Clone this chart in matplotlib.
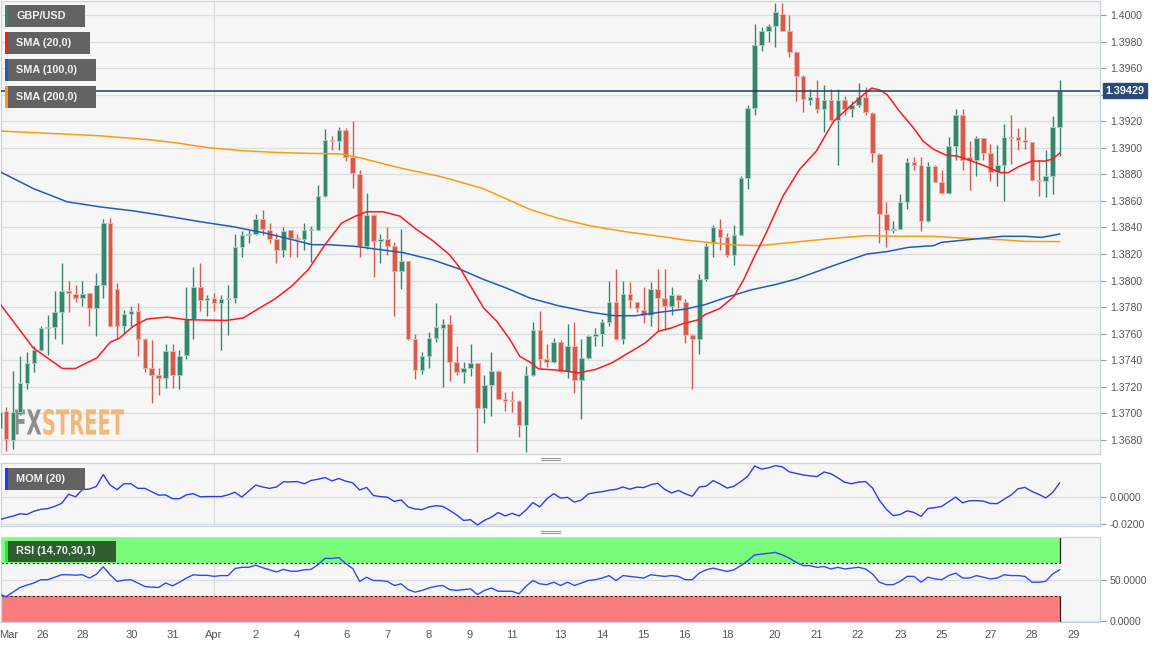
import numpy as np
import matplotlib
matplotlib.use("Agg")
import matplotlib.pyplot as plt
from matplotlib.patches import Rectangle, PathPatch
from matplotlib.lines import Line2D
from matplotlib.textpath import TextPath
from matplotlib.font_manager import FontProperties
from matplotlib.transforms import Affine2D

plt.rcParams['font.family'] = ['Liberation Sans', 'DejaVu Sans']

# GBP/USD 4h candles, bar index of the first one (half cut off at the left edge)
first_bar = -1
opens = [
    1.3689, 1.3702, 1.3680, 1.3701, 1.3723, 1.3738, 1.3748, 1.3764, 1.3765, 1.3776,
    1.3792, 1.3790, 1.3787, 1.3791, 1.3779, 1.3797, 1.3843, 1.3794, 1.3766, 1.3775,
    1.3777, 1.3756, 1.3734, 1.3729, 1.3727, 1.3747, 1.3729, 1.3744, 1.3771, 1.3795,
    1.3785, 1.3787, 1.3783, 1.3786, 1.3787, 1.3825, 1.3834, 1.3835, 1.3846, 1.3838,
    1.3831, 1.3823, 1.3838, 1.3832, 1.3831, 1.3838, 1.3838, 1.3864, 1.3906, 1.3905,
    1.3913, 1.3893, 1.3880, 1.3826, 1.3849, 1.3830, 1.3831, 1.3826, 1.3807, 1.3815,
    1.3756, 1.3733, 1.3743, 1.3757, 1.3764, 1.3767, 1.3739, 1.3731, 1.3734, 1.3738,
    1.3704, 1.3721, 1.3732, 1.3711, 1.3710, 1.3709, 1.3691, 1.3729, 1.3763, 1.3741,
    1.3739, 1.3754, 1.3732, 1.3751, 1.3725, 1.3742, 1.3758, 1.3760, 1.3769, 1.3784,
    1.3756, 1.3790, 1.3784, 1.3778, 1.3774, 1.3794, 1.3787, 1.3781, 1.3789, 1.3784,
    1.3759, 1.3756, 1.3801, 1.3828, 1.3839, 1.3833, 1.3819, 1.3834, 1.3877, 1.3930,
    1.3977, 1.3988, 1.3992, 1.4001, 1.3988, 1.3972, 1.3954, 1.3936, 1.3938, 1.3929,
    1.3936, 1.3921, 1.3936, 1.3929, 1.3932, 1.3938, 1.3926, 1.3895, 1.3850, 1.3838,
    1.3839, 1.3859, 1.3889, 1.3887, 1.3845, 1.3886, 1.3874, 1.3866, 1.3901, 1.3925,
    1.3893, 1.3891, 1.3907, 1.3896, 1.3882, 1.3887, 1.3908, 1.3908, 1.3906, 1.3904,
    1.3876, 1.3875, 1.3879, 1.3916,
]
highs = [
    1.3706, 1.3705, 1.3732, 1.3743, 1.3746, 1.3751, 1.3766, 1.3774, 1.3792, 1.3813,
    1.3800, 1.3797, 1.3800, 1.3791, 1.3806, 1.3846, 1.3847, 1.3798, 1.3778, 1.3781,
    1.3783, 1.3757, 1.3755, 1.3734, 1.3752, 1.3752, 1.3748, 1.3795, 1.3810, 1.3813,
    1.3789, 1.3791, 1.3789, 1.3797, 1.3835, 1.3837, 1.3838, 1.3850, 1.3853, 1.3843,
    1.3836, 1.3840, 1.3838, 1.3835, 1.3843, 1.3841, 1.3872, 1.3914, 1.3909, 1.3916,
    1.3915, 1.3920, 1.3883, 1.3866, 1.3850, 1.3835, 1.3840, 1.3829, 1.3839, 1.3815,
    1.3760, 1.3746, 1.3761, 1.3783, 1.3771, 1.3774, 1.3751, 1.3739, 1.3752, 1.3738,
    1.3729, 1.3746, 1.3733, 1.3716, 1.3717, 1.3710, 1.3736, 1.3769, 1.3777, 1.3752,
    1.3757, 1.3755, 1.3767, 1.3769, 1.3756, 1.3759, 1.3764, 1.3771, 1.3800, 1.3809,
    1.3800, 1.3799, 1.3784, 1.3795, 1.3799, 1.3809, 1.3809, 1.3795, 1.3790, 1.3786,
    1.3760, 1.3805, 1.3828, 1.3842, 1.3846, 1.3836, 1.3842, 1.3879, 1.3932, 1.3993,
    1.3991, 1.3993, 1.4009, 1.4009, 1.4000, 1.3973, 1.3955, 1.3944, 1.3951, 1.3947,
    1.3944, 1.3944, 1.3939, 1.3935, 1.3949, 1.3946, 1.3927, 1.3896, 1.3859, 1.3845,
    1.3865, 1.3892, 1.3893, 1.3893, 1.3889, 1.3887, 1.3883, 1.3908, 1.3929, 1.3929,
    1.3905, 1.3909, 1.3907, 1.3903, 1.3902, 1.3918, 1.3925, 1.3915, 1.3916, 1.3904,
    1.3891, 1.3898, 1.3924, 1.3951,
]
lows = [
    1.3680, 1.3672, 1.3673, 1.3699, 1.3718, 1.3731, 1.3747, 1.3744, 1.3756, 1.3752,
    1.3776, 1.3784, 1.3781, 1.3766, 1.3758, 1.3787, 1.3765, 1.3756, 1.3760, 1.3766,
    1.3743, 1.3731, 1.3708, 1.3714, 1.3719, 1.3719, 1.3718, 1.3741, 1.3756, 1.3777,
    1.3773, 1.3777, 1.3748, 1.3759, 1.3783, 1.3818, 1.3828, 1.3834, 1.3834, 1.3828,
    1.3813, 1.3818, 1.3818, 1.3818, 1.3823, 1.3814, 1.3838, 1.3863, 1.3898, 1.3898,
    1.3890, 1.3870, 1.3818, 1.3824, 1.3803, 1.3813, 1.3819, 1.3773, 1.3794, 1.3755,
    1.3726, 1.3730, 1.3734, 1.3754, 1.3720, 1.3724, 1.3729, 1.3723, 1.3728, 1.3671,
    1.3693, 1.3698, 1.3711, 1.3702, 1.3701, 1.3682, 1.3671, 1.3728, 1.3734, 1.3735,
    1.3738, 1.3731, 1.3727, 1.3715, 1.3696, 1.3741, 1.3751, 1.3751, 1.3766, 1.3755,
    1.3752, 1.3779, 1.3776, 1.3768, 1.3766, 1.3762, 1.3763, 1.3774, 1.3779, 1.3753,
    1.3718, 1.3745, 1.3800, 1.3818, 1.3823, 1.3818, 1.3812, 1.3834, 1.3869, 1.3925,
    1.3973, 1.3980, 1.3976, 1.3988, 1.3968, 1.3935, 1.3927, 1.3932, 1.3926, 1.3912,
    1.3920, 1.3887, 1.3925, 1.3923, 1.3931, 1.3925, 1.3889, 1.3828, 1.3825, 1.3836,
    1.3839, 1.3854, 1.3883, 1.3837, 1.3844, 1.3874, 1.3865, 1.3865, 1.3891, 1.3883,
    1.3868, 1.3879, 1.3891, 1.3875, 1.3871, 1.3860, 1.3888, 1.3898, 1.3899, 1.3875,
    1.3864, 1.3863, 1.3865, 1.3894,
]
closes = [
    1.3701, 1.3681, 1.3701, 1.3723, 1.3738, 1.3748, 1.3764, 1.3765, 1.3776, 1.3792,
    1.3791, 1.3787, 1.3790, 1.3779, 1.3797, 1.3843, 1.3766, 1.3766, 1.3775, 1.3777,
    1.3756, 1.3734, 1.3729, 1.3727, 1.3747, 1.3729, 1.3743, 1.3771, 1.3795, 1.3785,
    1.3787, 1.3783, 1.3786, 1.3787, 1.3825, 1.3834, 1.3835, 1.3846, 1.3839, 1.3831,
    1.3823, 1.3837, 1.3832, 1.3831, 1.3838, 1.3839, 1.3864, 1.3906, 1.3905, 1.3913,
    1.3893, 1.3881, 1.3826, 1.3849, 1.3830, 1.3831, 1.3826, 1.3807, 1.3815, 1.3756,
    1.3733, 1.3743, 1.3757, 1.3765, 1.3767, 1.3739, 1.3731, 1.3734, 1.3738, 1.3704,
    1.3721, 1.3732, 1.3711, 1.3709, 1.3709, 1.3691, 1.3729, 1.3763, 1.3741, 1.3739,
    1.3754, 1.3732, 1.3751, 1.3725, 1.3742, 1.3758, 1.3760, 1.3769, 1.3784, 1.3756,
    1.3790, 1.3785, 1.3779, 1.3774, 1.3794, 1.3787, 1.3781, 1.3789, 1.3785, 1.3759,
    1.3756, 1.3801, 1.3826, 1.3840, 1.3833, 1.3819, 1.3834, 1.3877, 1.3930, 1.3977,
    1.3988, 1.3992, 1.4002, 1.3988, 1.3972, 1.3954, 1.3937, 1.3938, 1.3929, 1.3936,
    1.3921, 1.3936, 1.3929, 1.3932, 1.3938, 1.3927, 1.3896, 1.3850, 1.3838, 1.3839,
    1.3859, 1.3889, 1.3887, 1.3845, 1.3886, 1.3874, 1.3866, 1.3901, 1.3925, 1.3891,
    1.3891, 1.3907, 1.3896, 1.3882, 1.3887, 1.3908, 1.3907, 1.3906, 1.3904, 1.3876,
    1.3875, 1.3879, 1.3916, 1.39429,
]
last_price = 1.39429

# moving averages at these bar positions
sma20_at = [-0.9, 3.9, 8.1, 10.0, 13.1, 15.0, 16.4, 18.3, 20.3, 23.2, 26.0, 31.8, 34.2,
            36.4, 38.8, 41.2, 43.6, 46.0, 48.4, 50.3, 52.0, 54.4, 56.8, 59.2, 61.6, 64.0,
            65.5, 66.9, 68.9, 70.8, 72.7, 74.1, 75.6, 76.8, 79.7, 82.6, 85.0, 87.4, 89.8,
            92.2, 94.1, 96.0, 97.5, 99.9, 100.8, 103.0, 105.0, 106.4, 107.8, 109.7, 112.1,
            114.5, 116.9, 119.4, 121.8, 123.7, 124.9, 126.1, 127.1, 128.9, 130.9, 132.3,
            133.8, 135.7, 137.2, 138.6, 141.0, 143.4, 144.6, 146.0, 148.0, 149.9, 150.9, 152.0]
sma20 = [1.37825, 1.37493, 1.37338, 1.37338, 1.37418, 1.37535, 1.37568, 1.37655, 1.3771,
         1.37725, 1.37705, 1.377, 1.37718, 1.37788, 1.37863, 1.37958, 1.38083, 1.3827,
         1.38433, 1.38483, 1.38518, 1.38518, 1.38485, 1.38385, 1.38298, 1.38193, 1.38093,
         1.37968, 1.37793, 1.37693, 1.37555, 1.3743, 1.37385, 1.37335, 1.37325, 1.37305,
         1.3733, 1.3738, 1.37455, 1.3753, 1.37618, 1.37643, 1.37673, 1.37705, 1.37743,
         1.3779, 1.3788, 1.38005, 1.38163, 1.38363, 1.38638, 1.38838, 1.38975, 1.392,
         1.39313, 1.394, 1.3945, 1.39433, 1.394, 1.39275, 1.3915, 1.3905, 1.38988, 1.38943,
         1.38938, 1.38913, 1.38868, 1.38813, 1.38813, 1.38855, 1.389, 1.389, 1.38913, 1.38958]
sma100_at = [-0.9, 3.9, 8.8, 13.5, 18.3, 23.2, 28.0, 32.8, 37.6, 42.4, 44.1, 46.5, 50.3,
             54.4, 57.3, 61.6, 65.5, 68.8, 72.2, 75.6, 79.7, 84.5, 87.8, 90.7, 94.1, 98.0,
             100.8, 104.0, 107.5, 111.0, 114.1, 119.4, 124.2, 127.1, 130.2, 133.8, 135.0,
             139.8, 143.7, 147.0, 149.4, 152.0]
sma100 = [1.3882, 1.38693, 1.38593, 1.38555, 1.38525, 1.38485, 1.38443, 1.38405, 1.38355,
          1.38293, 1.3827, 1.3827, 1.38258, 1.3823, 1.3821, 1.38155, 1.38085, 1.3801,
          1.37943, 1.37868, 1.3781, 1.3776, 1.37735, 1.37735, 1.3776, 1.37785, 1.37818,
          1.37875, 1.3793, 1.3797, 1.38013, 1.38113, 1.382, 1.38218, 1.3825, 1.38263,
          1.38288, 1.38313, 1.38333, 1.38333, 1.38325, 1.3835]
sma200_at = [-0.9, 13.5, 20.8, 24.4, 29.2, 34.0, 38.8, 43.6, 48.4, 51.0, 56.8, 62.6, 64.5,
             68.8, 75.6, 79.7, 84.5, 89.3, 94.1, 98.0, 100.8, 104.9, 108.8, 114.5, 119.4,
             124.2, 128.9, 133.8, 138.6, 143.4, 147.0, 152.0]
sma200 = [1.39126, 1.3909, 1.3906, 1.39038, 1.39, 1.38978, 1.38965, 1.38958, 1.38953,
          1.38925, 1.38848, 1.38784, 1.38757, 1.38693, 1.38535, 1.38468, 1.3841, 1.38368,
          1.38335, 1.38305, 1.3829, 1.38268, 1.38263, 1.38293, 1.38318, 1.38338, 1.38333,
          1.38333, 1.38318, 1.38308, 1.38295, 1.38293]

# indicator panels, one value per candle
mom = [
    -0.0168, -0.0153, -0.0141, -0.0124, -0.0129, -0.0106, -0.0092, -0.0087, -0.0071, -0.0049,
    0.0017, -0.0002, 0.0050, 0.0054, 0.0073, 0.0158, 0.0083, 0.0050, 0.0092, 0.0092,
    0.0059, 0.0059, 0.0035, 0.0010, 0.0012, -0.0016, -0.0016, 0.0012, 0.0021, -0.0002,
    0.0000, 0.0000, 0.0000, 0.0012, 0.0031, -0.0004, 0.0040, 0.0083, 0.0069, 0.0059,
    0.0069, 0.0106, 0.0106, 0.0108, 0.0092, 0.0116, 0.0125, 0.0137, 0.0113, 0.0130,
    0.0111, 0.0099, 0.0047, 0.0066, 0.0007, 0.0000, -0.0005, -0.0035, -0.0024, -0.0075,
    -0.0090, -0.0094, -0.0075, -0.0066, -0.0071, -0.0100, -0.0133, -0.0172, -0.0167, -0.0205,
    -0.0172, -0.0149, -0.0115, -0.0140, -0.0121, -0.0140, -0.0097, -0.0044, -0.0074, -0.0017,
    0.0021, -0.0011, -0.0006, -0.0040, -0.0025, 0.0019, 0.0029, 0.0035, 0.0046, 0.0052,
    0.0069, 0.0053, 0.0068, 0.0065, 0.0085, 0.0096, 0.0052, 0.0026, 0.0044, 0.0020,
    0.0002, 0.0069, 0.0075, 0.0115, 0.0091, 0.0061, 0.0074, 0.0108, 0.0146, 0.0221,
    0.0198, 0.0207, 0.0223, 0.0214, 0.0178, 0.0167, 0.0156, 0.0149, 0.0144, 0.0177,
    0.0165, 0.0135, 0.0103, 0.0092, 0.0105, 0.0108, 0.0062, -0.0027, -0.0092, -0.0138,
    -0.0129, -0.0103, -0.0115, -0.0143, -0.0086, -0.0080, -0.0071, -0.0037, -0.0004, -0.0045,
    -0.0030, -0.0029, -0.0033, -0.0050, -0.0051, -0.0019, 0.0011, 0.0056, 0.0066, 0.0037,
    0.0016, -0.0010, 0.0029, 0.0098,
]
rsi = [
    32.4, 29.5, 35.0, 40.6, 43.5, 46.0, 50.0, 50.0, 53.0, 56.0,
    56.0, 55.5, 56.0, 52.0, 56.5, 65.6, 56.0, 47.9, 49.5, 50.0,
    46.0, 41.8, 41.0, 40.6, 46.0, 42.6, 47.0, 52.0, 56.0, 55.3,
    55.3, 54.1, 55.0, 55.0, 63.5, 65.0, 65.0, 67.6, 64.5, 62.0,
    59.4, 62.5, 60.3, 60.3, 62.0, 62.5, 68.4, 75.8, 75.8, 76.7,
    69.5, 63.5, 47.9, 53.0, 49.0, 49.0, 47.9, 43.0, 45.0, 38.0,
    35.0, 37.0, 40.0, 42.0, 43.0, 38.0, 37.0, 38.0, 39.0, 32.0,
    37.0, 40.0, 36.0, 36.0, 36.0, 33.0, 42.0, 49.0, 45.0, 44.0,
    47.0, 43.0, 47.0, 43.0, 46.0, 49.0, 50.0, 52.0, 55.0, 49.0,
    55.0, 54.0, 53.0, 52.0, 56.0, 55.0, 54.0, 55.0, 54.0, 50.0,
    50.0, 58.0, 62.0, 64.0, 62.0, 60.0, 62.0, 67.0, 73.0, 80.0,
    81.0, 82.0, 83.0, 80.0, 76.0, 71.0, 67.0, 67.0, 65.0, 66.0,
    63.0, 65.0, 63.0, 64.0, 65.0, 63.0, 57.0, 47.0, 44.0, 44.0,
    48.0, 54.0, 54.0, 47.0, 53.0, 51.0, 50.0, 55.0, 58.0, 52.0,
    52.0, 55.0, 53.0, 51.0, 52.0, 56.0, 55.0, 55.0, 54.0, 47.0,
    47.0, 48.0, 57.0, 62.0,
]

tick_at = [0.4, 5.2, 11.1, 18.1, 24.1, 30.0, 36.0, 42.0, 49.1, 55.0, 60.9, 66.9, 73.0,
           79.9, 86.0, 91.9, 97.9, 104.0, 110.9, 116.9, 122.9, 129.0, 135.0, 142.0, 148.0, 154.0]
tick_labels = ['Mar', '26', '28', '30', '31', 'Apr', '2', '4', '6', '7', '8', '9', '11',
               '13', '14', '15', '16', '18', '20', '21', '22', '23', '25', '27', '28', '29']
month_start = 30


W, H = 1171, 648
fig = plt.figure(figsize=(W / 100, H / 100), dpi=100)
fig.patch.set_facecolor('white')


def px_axes(x0, y0, x1, y1):
    return fig.add_axes([x0 / W, 1 - y1 / H, (x1 - x0) / W, (y1 - y0) / H])


ax = px_axes(1, 1, 1100, 454)
ax_mom = px_axes(1, 463, 1100, 526)
ax_rsi = px_axes(1, 537, 1100, 622)

x = np.arange(first_bar, first_bar + len(opens))
xlim = (-0.75, 157.83)

for a in (ax, ax_mom, ax_rsi):
    a.set_facecolor('#f6f6f6')
    a.set_xlim(*xlim)
    for s in a.spines.values():
        s.set_color('#c9d2e3')
        s.set_linewidth(0.9)
    a.yaxis.tick_right()
    a.tick_params(axis='y', length=4, width=0.8, color='#9a9a9a', labelcolor='#555555',
                  labelsize=7.6, pad=3)
    a.grid(axis='y', color='#dddddd', lw=0.9, zorder=0)
    a.axvline(month_start, color='#dddddd', lw=0.9, zorder=0)
    a.set_axisbelow(True)
    a.set_xticks([])

# price panel
o, h, l, c = map(np.array, (opens, highs, lows, closes))
up = c >= o
body_col = np.where(up, '#35866c', '#d75a4a')
edge_col = np.where(up, '#a6d0c0', '#efb2a9')
ax.vlines(x, l, h, colors=body_col, lw=1.0, zorder=3)
ax.bar(x, np.maximum(np.abs(c - o), 0.00005), bottom=np.minimum(o, c), width=0.66,
       color=body_col, edgecolor=edge_col, linewidth=0.6, zorder=4)

ax.plot(sma200_at, sma200, color='#ff9a10', lw=1.1, zorder=5)
ax.plot(sma100_at, sma100, color='#1f5dbd', lw=1.1, zorder=5)
ax.plot(sma20_at, sma20, color='#ff1a1a', lw=1.1, zorder=5)

ax.axhline(last_price, color='#233b5e', lw=1.1, zorder=6)
ax.annotate(f'{last_price:.5f}', xy=(1, last_price), xycoords=('axes fraction', 'data'),
            xytext=(4, 0), textcoords='offset points', ha='left', va='center',
            color='white', fontsize=7.8, fontweight='bold', annotation_clip=False,
            bbox=dict(boxstyle='square,pad=0.22', fc='#2c4a76', ec='#2c4a76'), zorder=10)

ax.set_ylim(1.36694, 1.40105)
pticks = np.arange(1.3680, 1.40001, 0.002)
ax.set_yticks(pticks)
# the 1.3940 label sits under the last-price box
ax.set_yticklabels(['' if abs(v - 1.394) < 1e-6 else f'{v:.4f}' for v in pticks])

# FXSTREET watermark, drawn in pixel space behind the candles
fp = FontProperties(family='DejaVu Sans', weight='bold')
p_fx = TextPath((0, 0), 'FX', size=10, prop=fp)
p_st = TextPath((p_fx.get_extents().x1 + 0.4, 0), 'STREET', size=10, prop=fp)
e0, e1 = p_fx.get_extents(), p_st.get_extents()
sx = 109 / (e1.x1 - e0.x0)
sy = 26 / (max(e0.y1, e1.y1) - min(e0.y0, e1.y0))
wm = Affine2D().translate(-e0.x0, -min(e0.y0, e1.y0)).scale(sx, sy).translate(15, H - 435)
ax.add_patch(PathPatch(p_fx, transform=wm, fc='#8d8d8d', ec='none', zorder=2))
ax.add_patch(PathPatch(p_st, transform=wm, fc='#f1b979', ec='none', zorder=2))
ax.set_xlim(*xlim)
ax.set_ylim(1.36694, 1.40105)

# momentum panel
ax_mom.plot(x, mom, color='#2a3cf5', lw=1.0, zorder=3)
ax_mom.set_ylim(-0.02124, 0.0242)
ax_mom.set_yticks([-0.02, 0.0])
ax_mom.set_yticklabels(['-0.0200', '0.0000'])

# RSI panel with overbought / oversold zones
last_bar = x[-1]
ax_rsi.fill_between([xlim[0], last_bar], 70, 110, color='#7bfb7b', lw=0, zorder=1)
ax_rsi.fill_between([xlim[0], last_bar], -5, 30, color='#f87c7c', lw=0, zorder=1)
ax_rsi.hlines([70, 30], xlim[0], last_bar, colors='#222222', lw=0.8,
              linestyles=(0, (2, 2)), zorder=2)
ax_rsi.vlines(last_bar, 70, 110, colors='#222222', lw=0.9, zorder=2)
ax_rsi.vlines(last_bar, -5, 30, colors='#222222', lw=0.9, zorder=2)
ax_rsi.plot(x, rsi, color='#2a4cf5', lw=1.0, zorder=3)
ax_rsi.set_ylim(-1.2, 101.7)
ax_rsi.set_yticks([0, 50])
ax_rsi.set_yticklabels(['0.0000', '50.0000'])
ax_rsi.set_xticks(tick_at)
ax_rsi.set_xticklabels(tick_labels)
ax_rsi.tick_params(axis='x', length=0, labelsize=8, labelcolor='#555555', pad=6)


def tag(x0, y0, x1, y1, text, face, bar):
    fig.add_artist(Rectangle((x0 / W, 1 - y1 / H), (x1 - x0) / W, (y1 - y0) / H,
                             transform=fig.transFigure, fc=face, ec='none', zorder=20))
    fig.add_artist(Rectangle((x0 / W, 1 - y1 / H), 2.6 / W, (y1 - y0) / H,
                             transform=fig.transFigure, fc=bar, ec='none', zorder=21))
    fig.text((x0 + 11.5) / W, 1 - (y0 + y1) / 2 / H, text, color='#f2f2f2', fontsize=7.8,
             fontweight='bold', ha='left', va='center', zorder=22)


tag(5, 5, 85, 27, 'GBP/USD', '#626262', '#35866c')
tag(5, 32, 90, 54, 'SMA (20,0)', '#626262', '#ff1a1a')
tag(5, 59, 96, 81, 'SMA (100,0)', '#626262', '#1f5dbd')
tag(5, 86, 96, 108, 'SMA (200,0)', '#626262', '#ff9a10')
tag(5, 468, 85, 490, 'MOM (20)', '#626262', '#1a3cff')
tag(5, 541, 116, 562, 'RSI (14,70,30,1)', '#2f5e2f', '#22ee22')

# little drag handles between the panels
for yy in (457.5, 460, 530.5, 533):
    fig.add_artist(Line2D([541 / W, 560 / W], [1 - yy / H] * 2, color='#9a9a9a', lw=0.8,
                          transform=fig.transFigure))

fig.savefig('out.png', dpi=100)
